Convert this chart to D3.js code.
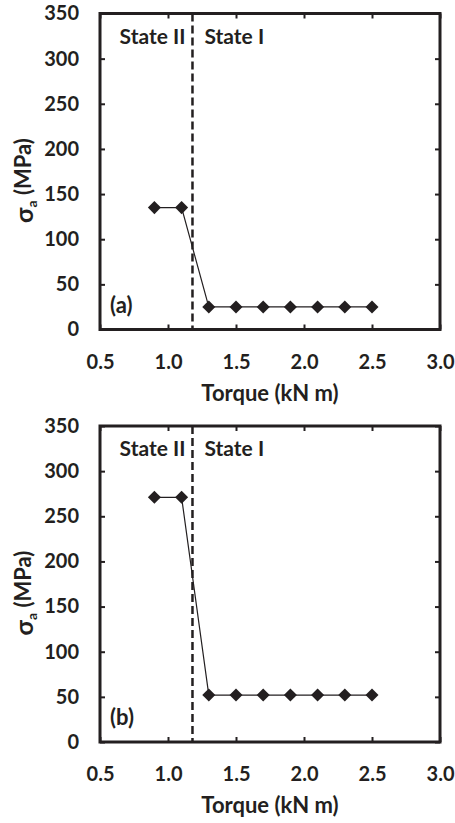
<!DOCTYPE html>
<html>
<head>
<meta charset="utf-8">
<script src="https://cdn.jsdelivr.net/npm/d3@7"></script>
<style>
  body { margin: 0; background: white; }
  text { font-family: Lato, "Open Sans", sans-serif; font-weight: bold; fill: #231f20; }
</style>
</head>
<body>
<div id="container"></div>
<script>
let torque = [0.9, 1.1, 1.3, 1.5, 1.7, 1.9, 2.1, 2.3, 2.5];
let stressA = [135, 135, 25, 25, 25, 25, 25, 25, 25];
let stressB = [271, 271, 52, 52, 52, 52, 52, 52, 52];
let xTicks = [0.5, 1.0, 1.5, 2.0, 2.5, 3.0];
let yTicks = [0, 50, 100, 150, 200, 250, 300, 350];
let panelLabels = ["(a)", "(b)"];
let stateBoundary = 1.18;

let w = 455;
let h = 823;
let ink = "#231f20";

let viz = d3.select("#container")
  .append("svg")
    .attr("width", w)
    .attr("height", h)
    .style("background-color", "white")
;

let left = 100;
let right = 440;
let plotH = 316;

let xScale = d3.scaleLinear().domain([0.5, 3.0]).range([left, right]);

function drawPanel(top, values, label){
    let bottom = top + plotH;
    let yScale = d3.scaleLinear().domain([0, 350]).range([bottom, top]);

    let g = viz.append("g");

    // bottom axis with labels, ticks pointing inward
    g.append("g")
        .attr("transform", "translate(0," + bottom + ")")
        .call(d3.axisBottom(xScale).tickValues(xTicks).tickFormat(d3.format(".1f"))
            .tickSizeInner(-5).tickSizeOuter(0).tickPadding(25));
    // top mirror ticks
    g.append("g")
        .attr("transform", "translate(0," + top + ")")
        .call(d3.axisTop(xScale).tickValues(xTicks).tickFormat("")
            .tickSizeInner(-5).tickSizeOuter(0));
    g.append("g")
        .attr("transform", "translate(" + left + ",0)")
        .call(d3.axisLeft(yScale).tickValues(yTicks)
            .tickSizeInner(-5).tickSizeOuter(0).tickPadding(21));
    g.append("g")
        .attr("transform", "translate(" + right + ",0)")
        .call(d3.axisRight(yScale).tickValues(yTicks).tickFormat("")
            .tickSizeInner(-5).tickSizeOuter(0));

    g.selectAll(".domain").remove();
    g.selectAll(".tick line").attr("stroke", ink).attr("stroke-width", 2);
    g.selectAll(".tick text")
        .attr("fill", ink)
        .style("font-size", "20px")
        .style("font-family", "Lato, sans-serif")
        .style("font-weight", "bold")
    ;

    // state boundary
    g.append("line")
        .attr("x1", xScale(stateBoundary))
        .attr("x2", xScale(stateBoundary))
        .attr("y1", top)
        .attr("y2", bottom)
        .attr("stroke", ink)
        .attr("stroke-width", 2.5)
        .attr("stroke-dasharray", "8,4")
    ;

    g.append("text")
        .text("State II")
        .attr("x", xScale(stateBoundary) - 7)
        .attr("y", top + 30)
        .attr("text-anchor", "end")
        .style("font-size", "21px")
    ;
    g.append("text")
        .text("State I")
        .attr("x", xScale(stateBoundary) + 12)
        .attr("y", top + 30)
        .attr("text-anchor", "start")
        .style("font-size", "21px")
    ;

    let pts = torque.map(function(t, i){ return {t: t, v: values[i]}; });

    let line = d3.line()
        .x(function(d){ return xScale(d.t); })
        .y(function(d){ return yScale(d.v); });

    g.append("path")
        .datum(pts)
        .attr("d", line)
        .attr("fill", "none")
        .attr("stroke", ink)
        .attr("stroke-width", 1.2)
    ;

    g.selectAll(".marker").data(pts).enter()
      .append("path")
        .classed("marker", true)
        .attr("d", d3.symbol(d3.symbolSquare, 85))
        .attr("transform", function(d){
            return "translate(" + xScale(d.t) + "," + yScale(d.v) + ") rotate(45)";
        })
        .attr("fill", ink)
    ;

    // frame
    g.append("rect")
        .attr("x", left)
        .attr("y", top)
        .attr("width", right - left)
        .attr("height", plotH)
        .attr("fill", "none")
        .attr("stroke", ink)
        .attr("stroke-width", 3)
    ;

    g.append("text")
        .text(label)
        .attr("x", left + 10)
        .attr("y", bottom - 17)
        .style("font-size", "22px")
    ;

    g.append("text")
        .text("Torque (kN m)")
        .attr("x", (left + right) / 2)
        .attr("y", bottom + 71)
        .attr("text-anchor", "middle")
        .style("font-size", "22px")
    ;

    let yTitle = g.append("text")
        .attr("transform", "translate(33," + ((top + bottom) / 2 + 9) + ") rotate(-90)")
        .attr("text-anchor", "middle")
        .style("font-size", "22px")
    ;
    yTitle.append("tspan").text("σ").style("font-size", "25px");
    yTitle.append("tspan").text("a").attr("dy", "0.3em").style("font-size", "14px");
    yTitle.append("tspan").text(" (MPa)").attr("dy", "-0.3em");
}

drawPanel(13.5, stressA, panelLabels[0]);
drawPanel(426, stressB, panelLabels[1]);
</script>
</body>
</html>
